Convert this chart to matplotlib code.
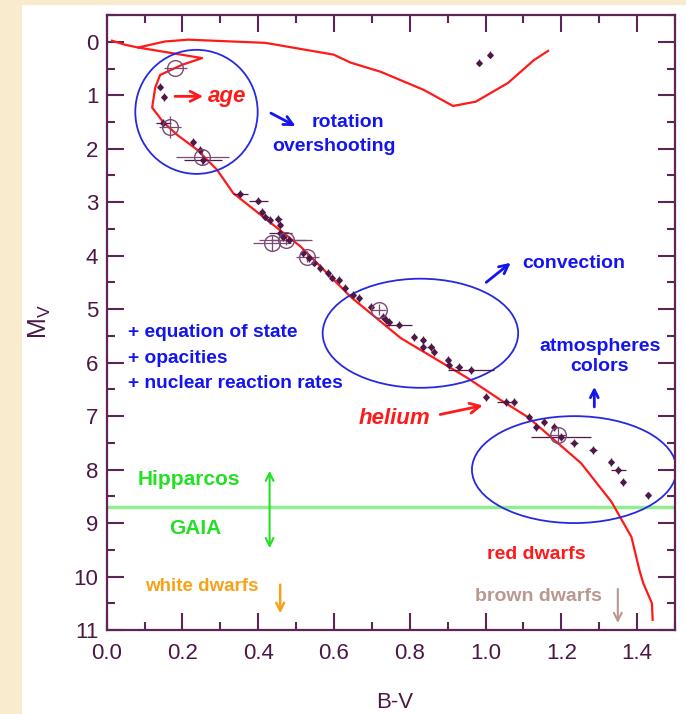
import matplotlib.pyplot as plt
from matplotlib.patches import Ellipse, Rectangle
from matplotlib.ticker import MultipleLocator

plt.rcParams['font.family'] = ['Liberation Sans', 'DejaVu Sans']

# isochrone: main sequence -> turnoff hook -> subgiant / giant branch
iso_bv = [1.441, 1.439, 1.416, 1.406, 1.385, 1.332, 1.252, 1.112, 1.04, 0.953,
          0.776, 0.644, 0.512, 0.334, 0.291, 0.239, 0.186, 0.149, 0.12, 0.128,
          0.141, 0.199, 0.252, 0.083, 0.154, 0.215, 0.419, 0.599, 0.644, 0.723,
          0.837, 0.914, 0.974, 1.059, 1.128, 1.165]
iso_mv = [10.81, 10.50, 10.12, 9.88, 9.26, 8.60, 7.88, 7.02, 6.70, 6.29,
          5.54, 4.77, 3.83, 2.83, 2.39, 2.02, 1.74, 1.50, 1.23, 0.86,
          0.62, 0.43, 0.305, 0.107, -0.006, -0.04, 0.02, 0.24, 0.39, 0.56,
          0.90, 1.20, 1.12, 0.77, 0.34, 0.17]
# short extra piece going to the left edge near the top
stub_bv = [0.083, 0.049, 0.014]
stub_mv = [0.107, 0.056, -0.02]

# Hyades stars
star_bv = [0.982, 1.012, 0.141, 0.152, 0.149, 0.228, 0.247, 0.255, 0.353, 0.400,
           0.411, 0.419, 0.432, 0.453, 0.458, 0.458, 0.466, 0.480, 0.519, 0.533,
           0.546, 0.564, 0.583, 0.596, 0.612, 0.630, 0.649, 0.665, 0.697, 0.728,
           0.736, 0.744, 0.771, 0.810, 0.834, 0.834, 0.855, 0.863, 0.900, 0.903,
           0.929, 0.961, 1.001, 1.054, 1.075, 1.114, 1.133, 1.154, 1.181, 1.199,
           1.234, 1.284, 1.332, 1.350, 1.363, 1.429]
star_mv = [0.39, 0.24, 0.84, 1.03, 1.52, 1.87, 2.02, 2.21, 2.84, 2.97,
           3.18, 3.27, 3.33, 3.31, 3.42, 3.57, 3.65, 3.70, 3.95, 4.04,
           4.13, 4.23, 4.32, 4.41, 4.45, 4.60, 4.73, 4.79, 4.96, 5.14,
           5.20, 5.24, 5.29, 5.52, 5.58, 5.71, 5.71, 5.80, 5.95, 6.04,
           6.08, 6.14, 6.64, 6.74, 6.74, 7.02, 7.20, 7.11, 7.20, 7.39,
           7.50, 7.63, 7.86, 8.01, 8.23, 8.48]
star_bv_err = [0, 0, 0, 0, 0.02, 0, 0, 0.05, 0.02, 0.025,
               0, 0.01, 0, 0.01, 0, 0.03, 0, 0.045, 0, 0,
               0, 0, 0, 0, 0, 0, 0, 0, 0, 0,
               0, 0.01, 0.035, 0, 0, 0, 0.01, 0, 0, 0,
               0.01, 0.06, 0, 0.025, 0, 0, 0, 0, 0, 0.08,
               0.01, 0.01, 0, 0.02, 0, 0]
star_mv_err = 0.07

# binaries / circled stars
circ_bv = [0.181, 0.167, 0.252, 0.437, 0.472, 0.530, 0.718, 1.191]
circ_mv = [0.49, 1.59, 2.15, 3.76, 3.70, 4.02, 5.01, 7.35]
circ_bv_err = [0.03, 0.03, 0.07, 0.05, 0.07, 0.03, 0.02, 0.02]
circ_mv_err = [0.0, 0.2, 0.15, 0.15, 0.1, 0.1, 0.1, 0.15]

# blue ellipses: centre, width, height
ell_xy = [(0.237, 1.31), (0.828, 5.45), (1.234, 8.0)]
ell_w = [0.323, 0.516, 0.54]
ell_h = [2.32, 2.04, 2.0]

hipparcos_limit = 8.7

purple = '#4e1848'
axis_col = '#5e2456'
blue = '#1414f0'
red = '#ff1a1a'
green = '#22e022'

fig = plt.figure(figsize=(6.86, 7.14), dpi=100)
fig.patch.set_facecolor('#f9ebcd')
# white panel (the slide background shows at left and top)
bg = fig.add_axes([22 / 686, 0, 1 - 22 / 686, 709 / 714], zorder=-5)
bg.axis('off')
bg.add_patch(Rectangle((0, 0), 1, 1, transform=bg.transAxes, color='white'))

ax = fig.add_axes([0.1555, 0.1176, 0.8285, 0.8613])
ax.set_facecolor('white')

ax.axhline(hipparcos_limit, color='#90ee90', lw=2.5, zorder=1)

ax.plot(iso_bv, iso_mv, color=red, lw=1.6, zorder=2)
ax.plot(stub_bv, stub_mv, color=red, lw=1.6, zorder=2)

for (cx, cy), w, h in zip(ell_xy, ell_w, ell_h):
    ax.add_patch(Ellipse((cx, cy), w, h, fill=False, edgecolor='#2828e0', lw=1.3, zorder=2))

ax.errorbar(star_bv, star_mv, xerr=star_bv_err, yerr=star_mv_err, fmt='D', ms=2.8,
            color=purple, ecolor=purple, elinewidth=0.9, capsize=0, zorder=3)
ax.errorbar(circ_bv, circ_mv, xerr=circ_bv_err, yerr=circ_mv_err, fmt='o', ms=11.3,
            mfc='none', mec='#7a4a74', mew=1.0, ecolor='#7a4a74', elinewidth=0.9,
            capsize=0, zorder=3)

# annotations
ax.annotate('', xy=(0.262, 1.02), xytext=(0.173, 1.02),
            arrowprops=dict(arrowstyle='->', color=red, lw=2, mutation_scale=18))
ax.text(0.268, 1.03, 'age', color=red, fontsize=16, fontweight='bold',
        fontstyle='italic', va='center', ha='left')

ax.annotate('', xy=(0.505, 1.6), xytext=(0.427, 1.31),
            arrowprops=dict(arrowstyle='->', color=blue, lw=2, mutation_scale=16))
ax.text(0.636, 1.51, 'rotation', color=blue, fontsize=14,
        fontweight='bold', ha='center', va='center')
ax.text(0.599, 1.96, 'overshooting', color=blue, fontsize=14,
        fontweight='bold', ha='center', va='center')

ax.annotate('', xy=(1.072, 4.1), xytext=(0.996, 4.53),
            arrowprops=dict(arrowstyle='->', color=blue, lw=2, mutation_scale=16))
ax.text(1.098, 4.14, 'convection', color=blue, fontsize=14, fontweight='bold',
        ha='left', va='center')

ax.text(0.056, 5.92, '+ equation of state\n+ opacities\n+ nuclear reaction rates',
        color=blue, fontsize=13.8, fontweight='bold', ha='left', va='center',
        linespacing=1.65)

ax.text(1.301, 5.88, 'atmospheres\ncolors', color=blue, fontsize=14,
        fontweight='bold', ha='center', va='center', linespacing=1.25)
ax.annotate('', xy=(1.287, 6.4), xytext=(1.287, 6.88),
            arrowprops=dict(arrowstyle='->', color=blue, lw=2, mutation_scale=14))

ax.text(0.855, 7.04, 'helium', color=red, fontsize=16, fontweight='bold',
        fontstyle='italic', ha='right', va='center')
ax.annotate('', xy=(1.0, 6.79), xytext=(0.873, 6.98),
            arrowprops=dict(arrowstyle='->', color=red, lw=2, mutation_scale=18))

ax.text(0.217, 8.19, 'Hipparcos', color=green, fontsize=15, fontweight='bold',
        ha='center', va='center')
ax.text(0.235, 9.11, 'GAIA', color=green, fontsize=15, fontweight='bold',
        ha='center', va='center')
ax.annotate('', xy=(0.43, 7.97), xytext=(0.43, 9.52),
            arrowprops=dict(arrowstyle='<->', color=green, lw=1.5, mutation_scale=14))

ax.text(0.251, 10.18, 'white dwarfs', color='#f7a21b', fontsize=13.5,
        fontweight='bold', ha='center', va='center')
ax.annotate('', xy=(0.458, 10.74), xytext=(0.458, 10.1),
            arrowprops=dict(arrowstyle='->', color='#f7a21b', lw=1.8, mutation_scale=14))

ax.text(1.133, 9.58, 'red dwarfs', color=red, fontsize=14, fontweight='bold',
        ha='center', va='center')
ax.text(1.139, 10.38, 'brown dwarfs', color='#b9988f', fontsize=14,
        fontweight='bold', ha='center', va='center')
ax.annotate('', xy=(1.349, 10.92), xytext=(1.349, 10.18),
            arrowprops=dict(arrowstyle='->', color='#b9988f', lw=1.5, mutation_scale=14))

# axes
ax.set_xlim(0, 1.5)
ax.set_ylim(11, -0.5)
ax.xaxis.set_minor_locator(MultipleLocator(0.1))
ax.yaxis.set_major_locator(MultipleLocator(1))
ax.yaxis.set_minor_locator(MultipleLocator(0.5))
ax.set_xticks([0, 0.2, 0.4, 0.6, 0.8, 1.0, 1.2, 1.4])
ax.set_xticklabels(['0.0', '0.2', '0.4', '0.6', '0.8', '1.0', '1.2', '1.4'])
ax.tick_params(which='both', direction='in', top=True, right=True,
               color=axis_col, width=1.5, labelcolor='#4a1844', labelsize=16)
ax.tick_params(which='major', length=12.5)
ax.tick_params(which='minor', length=6)
ax.tick_params(axis='y', pad=6)
ax.tick_params(axis='x', pad=9)
for s in ax.spines.values():
    s.set_color(axis_col)
    s.set_linewidth(1.6)

fig.text(40 / 686, 1 - 322 / 714, r'M$_\mathregular{V}$', rotation=90, color='#4a1844',
         fontsize=18, ha='center', va='center')
fig.text(395 / 686, 1 - 703 / 714, 'B-V', color='#4a1844', fontsize=16,
         ha='center', va='center')

fig.savefig('out.png', dpi=100, facecolor=fig.get_facecolor())
